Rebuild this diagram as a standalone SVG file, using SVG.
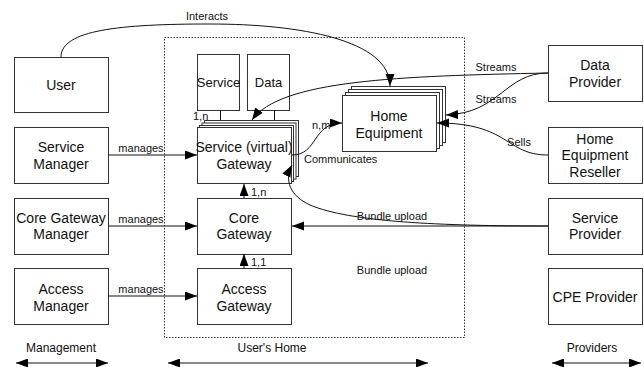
<svg xmlns="http://www.w3.org/2000/svg" width="644" height="367" viewBox="0 0 644 367">
<defs>
<marker id="ah" markerUnits="userSpaceOnUse" markerWidth="13" markerHeight="10" refX="12" refY="4.5" orient="auto"><path d="M0,0 L12,4.5 L0,9 z" fill="#000"/></marker>
<marker id="as" markerUnits="userSpaceOnUse" markerWidth="13" markerHeight="10" refX="0" refY="4.5" orient="auto"><path d="M12,0 L0,4.5 L12,9 z" fill="#000"/></marker>
<style>
.b{fill:#fff;stroke:#333;stroke-width:1}
.t{font-family:"Liberation Sans",Arial,sans-serif;font-size:14px;fill:#111;text-anchor:middle}
.s{font-family:"Liberation Sans",Arial,sans-serif;font-size:11px;fill:#111}
.c{fill:none;stroke:#111;stroke-width:1}
.a{marker-end:url(#ah)}
</style>
</defs>
<rect width="644" height="367" fill="#fff"/>
<rect x="164.5" y="37.5" width="300" height="300" fill="none" stroke="#333" stroke-dasharray="1.5,1.5"/>

<g id="user"><rect class="b" x="14.5" y="57.5" width="94" height="55"/><text class="t" x="61" y="90">User</text></g>
<g id="service-manager"><rect class="b" x="14.5" y="127.5" width="94" height="56"/><text class="t" x="61" y="152">Service</text><text class="t" x="61" y="169">Manager</text></g>
<g id="core-gateway-manager"><rect class="b" x="14.5" y="198.5" width="94" height="56"/><text class="t" x="61" y="223">Core Gateway</text><text class="t" x="61" y="239">Manager</text></g>
<g id="access-manager"><rect class="b" x="14.5" y="268.5" width="94" height="56"/><text class="t" x="61" y="294">Access</text><text class="t" x="61" y="311">Manager</text></g>

<g id="service"><rect class="b" x="197.5" y="54.5" width="42" height="56"/><text class="t" x="218.5" y="87" style="font-size:13px">Service</text></g>
<g id="data"><rect class="b" x="247.5" y="54.5" width="42" height="56"/><text class="t" x="268.5" y="87" style="font-size:13px">Data</text></g>

<g id="service-gateway">
<rect class="b" x="204.5" y="120.5" width="94" height="56"/>
<rect class="b" x="202" y="123" width="94" height="56"/>
<rect class="b" x="199.5" y="125.5" width="94" height="56"/>
<rect class="b" x="197.5" y="127.5" width="94" height="56"/>
<text class="t" x="244" y="152">Service (virtual)</text><text class="t" x="244" y="169">Gateway</text></g>
<g id="core-gateway"><rect class="b" x="197.5" y="198.5" width="94" height="56"/><text class="t" x="244" y="223">Core</text><text class="t" x="244" y="239">Gateway</text></g>
<g id="access-gateway"><rect class="b" x="197.5" y="268.5" width="94" height="56"/><text class="t" x="244" y="294">Access</text><text class="t" x="244" y="311">Gateway</text></g>

<g id="home-equipment">
<rect class="b" x="351.5" y="86.5" width="94" height="56"/>
<rect class="b" x="348.5" y="89.5" width="94" height="56"/>
<rect class="b" x="345.5" y="92.5" width="94" height="56"/>
<rect class="b" x="342.5" y="95.5" width="94" height="56"/>
<text class="t" x="389" y="121">Home</text><text class="t" x="389" y="138">Equipment</text></g>

<g id="data-provider"><rect class="b" x="548.5" y="45.5" width="94" height="56"/><text class="t" x="595" y="70">Data</text><text class="t" x="595" y="87">Provider</text></g>
<g id="home-equipment-reseller"><rect class="b" x="548.5" y="127.5" width="94" height="56"/><text class="t" x="595" y="144">Home</text><text class="t" x="595" y="160">Equipment</text><text class="t" x="595" y="177">Reseller</text></g>
<g id="service-provider"><rect class="b" x="548.5" y="198.5" width="94" height="56"/><text class="t" x="595" y="223">Service</text><text class="t" x="595" y="239">Provider</text></g>
<g id="cpe-provider"><rect class="b" x="548.5" y="268.5" width="94" height="56"/><text class="t" x="595" y="302">CPE Provider</text></g>

<g id="connectors">
<path class="c a" d="M61,57 C61,30 120,24 210,24 C300,24 390,40 390,86"/>
<path class="c a" d="M548,73 C400,76 280,80 252,120"/>
<path class="c a" d="M548,73 C505,73 500,113 446,115"/>
<path class="c a" d="M548,155 C505,155 510,123 437,123"/>
<path class="c a" d="M108,155 L197,155"/>
<path class="c a" d="M108,226 L197,226"/>
<path class="c a" d="M108,296 L197,296"/>
<path class="c a" d="M244,198 L244,184"/>
<path class="c a" d="M244,268 L244,254"/>
<path class="c a" d="M548,226 L292,226"/>
<path class="c a" d="M548,226 C440,226 350,222 310,205 C290,196 284,180 292,165"/>
<path class="c a" d="M292,155 C318,155 312,123 342,123"/>
<path class="c" d="M220.5,110 L220.5,120"/>
<path class="c" d="M274.5,110 L274.5,120"/>
<path class="c" d="M16,363 L108,363" marker-start="url(#as)" marker-end="url(#ah)"/>
<path class="c" d="M168,363 L428,363" marker-start="url(#as)" marker-end="url(#ah)"/>
<path class="c" d="M552,363 L641,363" marker-start="url(#as)" marker-end="url(#ah)"/>
</g>

<g id="labels">
<text class="s" x="207" y="20" text-anchor="middle">Interacts</text>
<text class="s" x="496" y="71" text-anchor="middle">Streams</text>
<text class="s" x="496" y="103" text-anchor="middle">Streams</text>
<text class="s" x="519" y="146" text-anchor="middle">Sells</text>
<text class="s" x="141" y="152" text-anchor="middle">manages</text>
<text class="s" x="141" y="223" text-anchor="middle">manages</text>
<text class="s" x="141" y="293" text-anchor="middle">manages</text>
<text class="s" x="193" y="120">1,n</text>
<text class="s" x="251" y="196">1,n</text>
<text class="s" x="251" y="266">1,1</text>
<text class="s" x="312" y="129">n,m</text>
<text class="s" x="304" y="163">Communicates</text>
<text class="s" x="392" y="220" text-anchor="middle">Bundle upload</text>
<text class="s" x="392" y="274" text-anchor="middle">Bundle upload</text>
<text class="s" x="61" y="352" text-anchor="middle" style="font-size:12px">Management</text>
<text class="s" x="272" y="352" text-anchor="middle" style="font-size:12px">User's Home</text>
<text class="s" x="592" y="352" text-anchor="middle" style="font-size:12px">Providers</text>
</g>
</svg>
